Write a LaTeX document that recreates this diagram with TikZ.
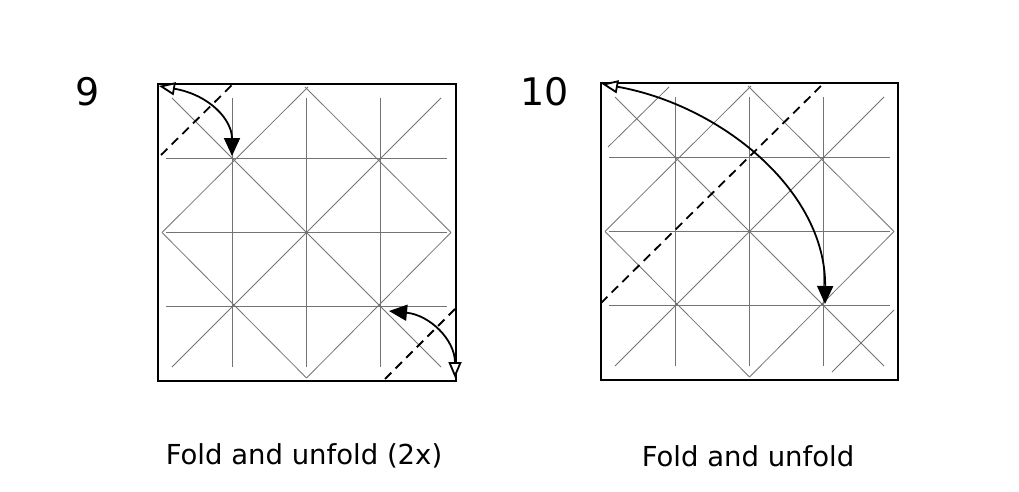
\documentclass[tikz,border=0pt]{standalone}
\usepackage{fontspec}
\setmainfont{DejaVu Sans}
\usetikzlibrary{arrows.meta}
\tikzset{
 crease/.style={black!55,line width=0.8pt},
 edge/.style={black,line width=1.2pt},
 valley/.style={black,line width=1.8pt,dash pattern=on 9pt off 6pt},
 foldarrow/.style={black,line width=1.8pt,{Triangle[open,length=16pt,width=13pt,fill=white]}-{Triangle[length=18pt,width=16pt]}},
}
\newcommand{\grid}[2]{%
 \begin{scope}[shift={(#1,#2)}]
 \foreach \k in {74.25,148.5,222.75}{
  \draw[crease] (\k,14) -- (\k,283);
  \draw[crease] (8,\k) -- (289,\k);}
 \draw[crease] (150,3) -- (4,148.5); \draw[crease] (147,3) -- (293,148.5);
 \draw[crease] (4,148.5) -- (148.5,294); \draw[crease] (293,148.5) -- (148.5,294);
 \draw[crease] (14,14) -- (283,283); \draw[crease] (283,14) -- (14,283);
 \end{scope}}
\begin{document}
\begin{tikzpicture}[x=1pt,y=-1pt]
\useasboundingbox (0,0) rectangle (1019,492);
% step 9
\grid{158}{84}
\draw[edge] (158,84) rectangle (456,381);
\draw[valley] (161,155) -- (233,84);
\draw[valley] (385,379) -- (455,309);
\draw[foldarrow] (159,86) .. controls (210,95) and (232,120) .. (232,156);
\draw[foldarrow] (455,378) .. controls (455,340) and (430,315) .. (389,311);
\node[font=\fontsize{38}{40}\selectfont] (n9) at (88,92) {9};
\node[font=\fontsize{27.5}{32}\selectfont] (c9) at (304,456) {Fold and unfold (2x)};
% step 10
\grid{601}{83}
\begin{scope}[shift={(601,83)}]
\draw[crease] (7,64) -- (68,4);
\draw[crease] (231,289) -- (293,227);
\end{scope}
\draw[edge] (601,83) rectangle (898,380);
\draw[valley] (601,303) -- (825,82);
\draw[foldarrow] (602,84) .. controls (720,105) and (826,190) .. (825,304);
\node[font=\fontsize{38}{40}\selectfont] (n10) at (545,92) {10};
\node[font=\fontsize{27.5}{32}\selectfont] (c10) at (748,456) {Fold and unfold};
\end{tikzpicture}
\end{document}
